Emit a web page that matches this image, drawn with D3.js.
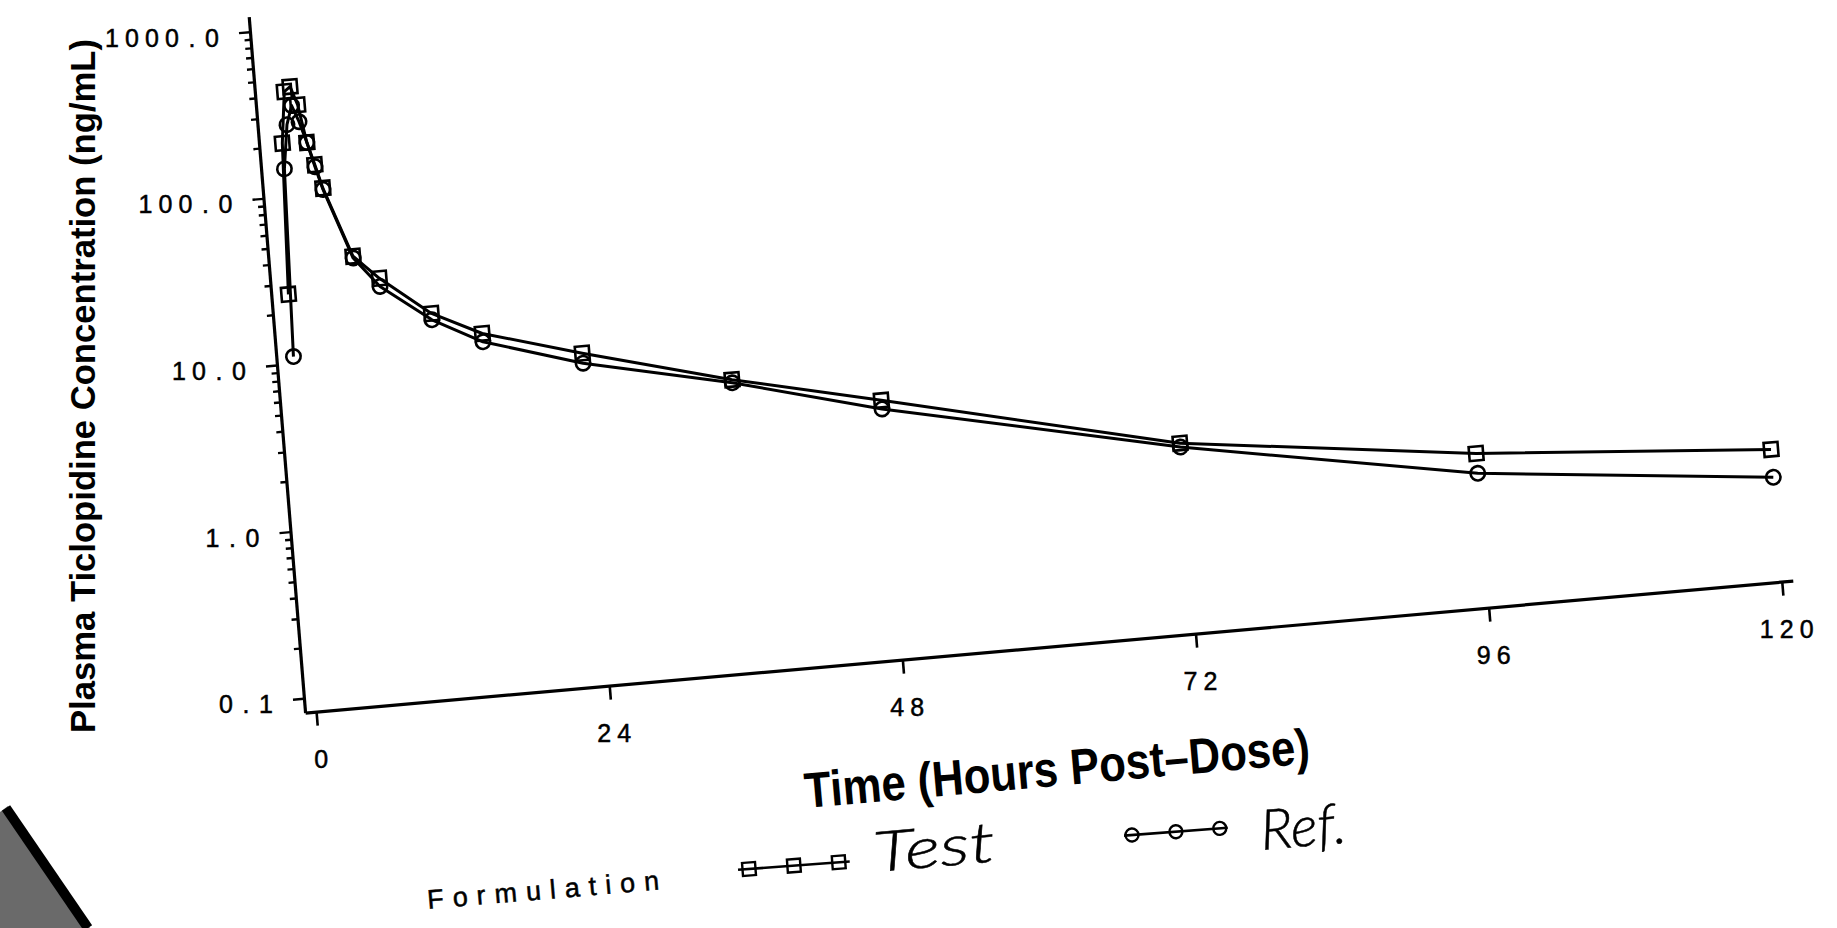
<!DOCTYPE html>
<html><head><meta charset="utf-8">
<script src="https://cdn.jsdelivr.net/npm/d3@7"></script>
<style>body{margin:0;background:#fff;overflow:hidden}</style>
</head><body>
<script>
// ---- data ----
const times    = [0.5, 1, 1.5, 2, 2.5, 3, 3.5, 4, 6, 8, 12, 16, 24, 36, 48, 72, 96, 120];
const testConc = [26, 208, 422, 448, 345, 204, 149, 107, 40.5, 29.0, 16.8, 12.0, 8.1, 4.7, 2.95, 1.14, 0.69, 0.51];
const refConc  = [11, 146, 267, 345, 274, 204, 145, 105, 39.5, 25.9, 15.4, 10.7, 7.06, 4.5, 2.62, 1.08, 0.525, 0.347];
const yMajor = [0.1, 1, 10, 100, 1000];
const yTickLabels = ["0.1", "1.0", "10.0", "100.0", "1000.0"];
const xTicks = [0, 24, 48, 72, 96, 120];
const xTickLabels = ["0", "24", "48", "72", "96", "120"];
const seriesNames = ["Test", "Ref."];
const legendTitle = "Formulation";
const xTitle = "Time (Hours Post\u2013Dose)";
const yTitle = "Plasma Ticlopidine Concentration (ng/mL)";

// ---- geometry (scan is slightly tilted) ----
const Wd = 1837, Ht = 928;
const pxPerHour = 12.262, pxPerDecade = 167.2;
const xDomain = [-0.9, 120.9];
const yDomain = [0.08206, 1230];
const plotW = (xDomain[1] - xDomain[0]) * pxPerHour;
const plotH = Math.log10(yDomain[1] / yDomain[0]) * pxPerDecade;
const x = d3.scaleLinear().domain(xDomain).range([0, plotW]);
const y = d3.scaleLog().domain(yDomain).range([plotH, 0]);
const M = {a: 0.99609, b: -0.08835, c: 0.08074, d: 0.99671, e: 248.7, f: 16.7};
const project = (px, py) => [M.a * px + M.c * py + M.e, M.b * px + M.d * py + M.f];

const svg = d3.select("body").append("svg").attr("width", Wd).attr("height", Ht);
svg.append("rect").attr("width", Wd).attr("height", Ht).attr("fill", "#fff");

const g = svg.append("g")
  .attr("transform", `matrix(${M.a},${M.b},${M.c},${M.d},${M.e},${M.f})`);

// y axis with log minor ticks
const yMinor = [];
yMajor.slice(0, 4).forEach(dec => { for (let k = 2; k <= 9; k++) yMinor.push(dec * k); });
const yAll = yMajor.concat(yMinor);
const yAx = g.append("g")
  .call(d3.axisLeft(y).tickValues(yAll).tickSize(11).tickSizeOuter(0).tickFormat(""));
yAx.select(".domain").attr("stroke", "#000").attr("stroke-width", 3.2);
yAx.selectAll(".tick line").attr("stroke", "#000").attr("stroke-width", 2.4)
  .attr("x2", d => yMajor.includes(d) ? -11 : -6);

// x axis
const xAx = g.append("g").attr("transform", `translate(0,${plotH})`)
  .call(d3.axisBottom(x).tickValues(xTicks).tickSize(14).tickSizeOuter(0).tickFormat(""));
xAx.select(".domain").attr("stroke", "#000").attr("stroke-width", 3.2);
xAx.selectAll(".tick line").attr("stroke", "#000").attr("stroke-width", 2.6);

// data
const series = [
  {name: seriesNames[0], vals: testConc, shape: "square"},
  {name: seriesNames[1], vals: refConc, shape: "circle"}
];
const line = d3.line().x(d => x(d.t)).y(d => y(d.c));
series.forEach(s => {
  const pts = times.map((t, i) => ({t, c: s.vals[i]}));
  g.append("path").datum(pts).attr("d", line)
    .attr("fill", "none").attr("stroke", "#000").attr("stroke-width", 3)
    .attr("stroke-linejoin", "round");
  if (s.shape === "square") {
    g.selectAll(null).data(pts).enter().append("rect")
      .attr("x", d => x(d.t) - 7).attr("y", d => y(d.c) - 7)
      .attr("width", 14).attr("height", 14)
      .attr("fill", "none").attr("stroke", "#000").attr("stroke-width", 2.6);
  } else {
    g.selectAll(null).data(pts).enter().append("circle")
      .attr("cx", d => x(d.t)).attr("cy", d => y(d.c)).attr("r", 7.2)
      .attr("fill", "none").attr("stroke", "#000").attr("stroke-width", 2.6);
  }
});

// upright tick labels on a fixed character grid, placed along the tilted axes
const tickFont = "'Liberation Sans', Arial, sans-serif";
const cell = 20;
function gridText(str, cx0, yb) {
  const xs = Array.from(str, (ch, i) => (cx0 + i * cell).toFixed(1)).join(" ");
  svg.append("text").attr("x", xs).attr("y", yb)
    .attr("text-anchor", "middle").attr("font-family", tickFont).attr("font-size", 25)
    .attr("fill", "#000").attr("stroke", "#000").attr("stroke-width", 0.5).text(str);
}
yMajor.forEach((v, i) => {
  const p = project(0, y(v));
  const s = yTickLabels[i];
  const right = p[0] - 28;
  gridText(s, right - cell * s.length + cell / 2, p[1] + 15);
});
xTicks.forEach((v, i) => {
  const p = project(x(v), plotH);
  const s = xTickLabels[i];
  gridText(s, p[0] + 5 - cell * (s.length - 1) / 2, p[1] + 56);
});

// titles
svg.append("text").attr("transform", "translate(95,386) rotate(-90)")
  .attr("text-anchor", "middle").attr("font-family", tickFont).attr("font-weight", "bold")
  .attr("font-size", 35).attr("textLength", 694).attr("lengthAdjust", "spacingAndGlyphs")
  .attr("fill", "#000").text(yTitle);
svg.append("text").attr("transform", "translate(806,808) rotate(-5.07)")
  .attr("font-family", tickFont).attr("font-weight", "bold")
  .attr("font-size", 50).attr("textLength", 507).attr("lengthAdjust", "spacingAndGlyphs")
  .attr("fill", "#000").text(xTitle);

// legend
svg.append("text").attr("transform", "translate(428,909) rotate(-4.8)")
  .attr("font-family", tickFont).attr("font-size", 27).attr("letter-spacing", 9)
  .attr("fill", "#000").attr("stroke", "#000").attr("stroke-width", 0.5).text(legendTitle);

const legT = svg.append("g").attr("transform", "translate(749,869) rotate(-4.3)");
legT.append("line").attr("x1", -11).attr("x2", 101).attr("y1", 0).attr("y2", 0)
  .attr("stroke", "#000").attr("stroke-width", 2.6);
[0, 45, 90].forEach(dx => legT.append("rect").attr("x", dx - 6.5).attr("y", -6.5)
  .attr("width", 13).attr("height", 13).attr("fill", "none").attr("stroke", "#000").attr("stroke-width", 2.4));
const legR = svg.append("g").attr("transform", "translate(1132,835) rotate(-4.3)");
legR.append("line").attr("x1", -8).attr("x2", 96).attr("y1", 0).attr("y2", 0)
  .attr("stroke", "#000").attr("stroke-width", 2.6);
[0, 44, 88].forEach(dx => legR.append("circle").attr("cx", dx).attr("cy", 0).attr("r", 6.5)
  .attr("fill", "none").attr("stroke", "#000").attr("stroke-width", 2.4));

const handFont = "Lato, 'DejaVu Sans', sans-serif";
svg.append("text").attr("transform", "translate(875,872) rotate(-5)")
  .attr("font-family", handFont).attr("font-style", "italic").attr("font-weight", 300)
  .attr("font-size", 56).attr("textLength", 122).attr("lengthAdjust", "spacingAndGlyphs")
  .attr("fill", "#000").attr("stroke", "#000").attr("stroke-width", 0.5).text(seriesNames[0]);
svg.append("text").attr("transform", "translate(1262,850) rotate(-5)")
  .attr("font-family", handFont).attr("font-style", "italic").attr("font-weight", 300)
  .attr("font-size", 56).attr("textLength", 86).attr("lengthAdjust", "spacingAndGlyphs")
  .attr("fill", "#000").attr("stroke", "#000").attr("stroke-width", 0.5).text(seriesNames[1]);

// scan artefact in the lower-left corner
svg.append("path").attr("d", "M0,812 L8,806 L90,928 L0,928 Z").attr("fill", "#6a6a6a");
svg.append("path").attr("d", "M6,808 L88,928").attr("stroke", "#000").attr("stroke-width", 10);
</script>
</body></html>
